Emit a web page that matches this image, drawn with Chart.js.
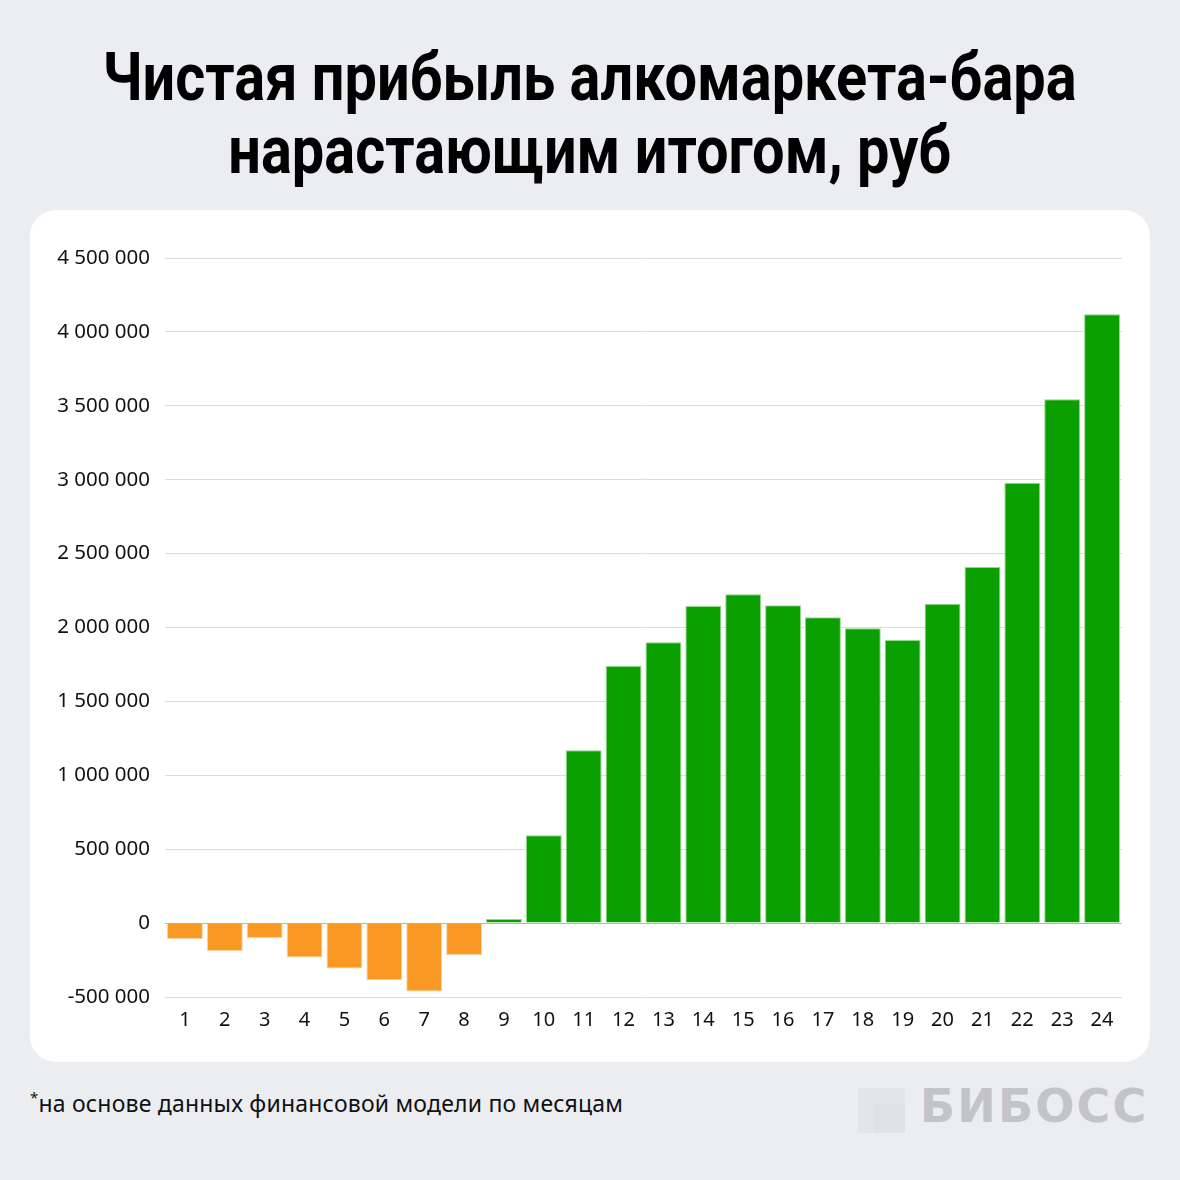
<!DOCTYPE html>
<html>
<head>
<meta charset="utf-8">
<script src="https://cdn.jsdelivr.net/npm/chart.js@4"></script>
<style>
  body { margin: 0; width: 1180px; height: 1180px; background: #ecedf1; position: relative; overflow: hidden; }
  #title { position: absolute; left: 0; top: 41px; width: 1180px; text-align: center;
           font-family: Roboto, sans-serif; font-weight: 700;
           font-size: 67px; line-height: 73px; color: #000; white-space: nowrap; }
  #title span { display: inline-block; transform-origin: center; }
  #card { position: absolute; left: 30px; top: 210px; width: 1120px; height: 852px; background: #fff; border-radius: 26px; }
  #wrap { position: absolute; left: 30px; top: 210px; width: 1120px; height: 852px; }
  #note { position: absolute; left: 30px; top: 1087px; font-family: "Noto Sans", sans-serif; font-size: 23px; color: #111;
          letter-spacing: 0.2px; }
  #note sup { font-size: 15px; }
  #logo { position: absolute; left: 858px; top: 1088px; height: 46px; }
  #logo .sq { position: absolute; left: 0; top: 0; width: 47px; height: 45px; background: #e4e5e9; }
  #logo .sq2 { position: absolute; left: 16px; top: 16px; width: 31px; height: 29px; background: #e0e1e5; }
  #logo .txt { position: absolute; left: 62px; top: -9px; font-family: "DejaVu Sans", sans-serif; font-weight: bold;
               font-size: 46px; color: #c3c4c8; white-space: nowrap; letter-spacing: 2.2px; }
</style>
</head>
<body>
<div id="title"><div><span id="t1">Чистая прибыль алкомаркета-бара</span></div><div><span id="t2">нарастающим итогом, руб</span></div></div>
<div id="card"></div>
<div id="wrap"><canvas id="chart" width="1120" height="852"></canvas></div>
<div id="note"><sup>*</sup>на основе данных финансовой модели по месяцам</div>
<div id="logo"><div class="sq"></div><div class="sq2"></div><div class="txt">БИБОСС</div></div>
<script>
// Месяцы
const months = ['1','2','3','4','5','6','7','8','9','10','11','12','13','14','15','16','17','18','19','20','21','22','23','24'];
// Чистая прибыль нарастающим итогом, руб
const profit = [-108000, -188000, -102000, -232000, -307000, -387000, -462000, -215000, 27000, 595000,
  1170000, 1740000, 1900000, 2145000, 2225000, 2150000, 2070000, 1995000, 1915000, 2160000,
  2410000, 2980000, 3545000, 4120000];
const yTicks = [-500000, 0, 500000, 1000000, 1500000, 2000000, 2500000, 3000000, 3500000, 4000000, 4500000];

// заголовок узким начертанием
const t1 = document.getElementById('t1');
const t2 = document.getElementById('t2');
const k = 974 / t1.offsetWidth;
t1.style.transform = 'scaleX(' + k + ')';
t2.style.transform = 'scaleX(' + k + ')';

function fmt(v) {
  return String(v).replace(/\B(?=(\d{3})+(?!\d))/g, ' ');
}

const ctx = document.getElementById('chart').getContext('2d');
new Chart(ctx, {
  type: 'bar',
  data: {
    labels: months,
    datasets: [{
      data: profit,
      backgroundColor: profit.map(v => v < 0 ? '#f99823' : '#0aa000'),
      borderColor: profit.map(v => v < 0 ? '#fcd3a4' : '#8fd98a'),
      borderWidth: 1,
      barPercentage: 0.9,
      categoryPercentage: 1.0
    }]
  },
  options: {
    responsive: false,
    animation: false,
    layout: { padding: { top: 48, right: 28, bottom: 20, left: 0 } },
    plugins: { legend: { display: false }, tooltip: { enabled: false } },
    scales: {
      x: {
        grid: { display: false },
        border: { display: false },
        ticks: { color: '#111', font: { family: 'Noto Sans', size: 20 }, padding: 3, maxRotation: 0 },
        afterFit: s => { s.height = 45; }
      },
      y: {
        min: -500000,
        max: 4500000,
        afterBuildTicks: s => { s.ticks = yTicks.map(v => ({ value: v })); },
        grid: { color: c => c.tick && c.tick.value === 0 ? '#b4b4b4' : '#dcdcdc', drawTicks: false },
        border: { display: false },
        ticks: { color: '#111', font: { family: 'Noto Sans', size: 20.5 }, padding: 15, callback: v => fmt(v) },
        afterFit: s => { s.width = 135; }
      }
    }
  }
});
</script>
</body>
</html>
